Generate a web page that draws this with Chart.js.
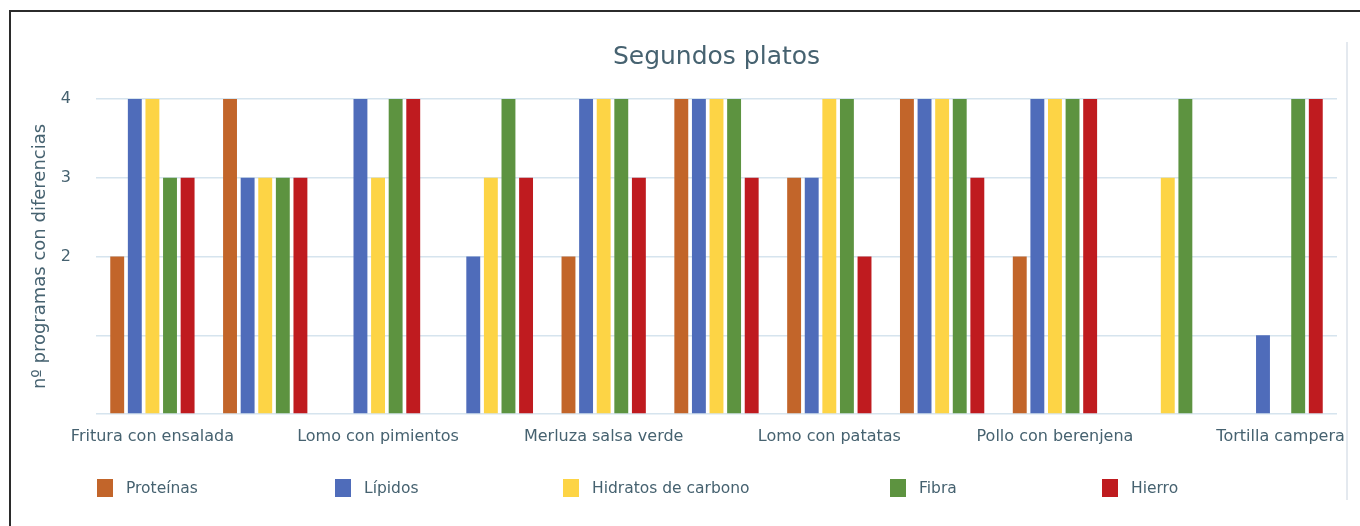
<!DOCTYPE html>
<html>
<head>
<meta charset="utf-8">
<script src="https://cdn.jsdelivr.net/npm/chart.js@4"></script>
<style>
    html, body { margin: 0; padding: 0; background: #fff; }
    .wrap { position: relative; width: 1360px; height: 526px; overflow: hidden; }
    .frame { position: absolute; left: 9px; top: 10px; right: 0; bottom: 0; border-top: 2px solid #2b2b2b; border-left: 2px solid #2b2b2b; pointer-events: none; }
    .edge { position: absolute; left: 1346px; top: 42px; width: 2px; height: 458px; background: #e4e9ef; }
    .legend { position: absolute; left: 0; top: 479px; width: 1360px; height: 20px; font-family: "DejaVu Sans", sans-serif; font-size: 15.5px; color: #466270; }
    .legend-item { position: absolute; top: 0; display: flex; align-items: center; height: 18px; }
    .legend-item i { display: inline-block; width: 16px; height: 18px; margin-right: 13px; }
</style>
</head>
<body>
<div class="wrap">
    <canvas id="chart" width="1360" height="526"></canvas>
    <div class="frame"></div>
    <div class="edge"></div>
    <div class="legend" id="legend"></div>
</div>
<script>
const categories = ['Fritura con ensalada', '', 'Lomo con pimientos', '', 'Merluza salsa verde', '',
    'Lomo con patatas', '', 'Pollo con berenjena', '', 'Tortilla campera'];
const seriesNames = ['Proteínas', 'Lípidos', 'Hidratos de carbono', 'Fibra', 'Hierro'];
const proteinas = [2, 4, 0, 0, 2, 4, 3, 4, 2, 0, 0];
const lipidos = [4, 3, 4, 2, 4, 4, 3, 4, 4, 0, 1];
const hidratos = [4, 3, 3, 3, 4, 4, 4, 4, 4, 3, 0];
const fibra = [3, 3, 4, 4, 4, 4, 4, 4, 4, 4, 4];
const hierro = [3, 3, 4, 3, 3, 3, 2, 3, 4, 0, 4];
const yTicks = [2, 3, 4];

const colors = ['#c2652a', '#4f6cba', '#fdd445', '#5d9340', '#bf1b1f'];
const legendX = [97, 335, 563, 890, 1102];
const textColor = '#466270';
const font = '"DejaVu Sans", sans-serif';

const canvas = document.getElementById('chart');
const values = [proteinas, lipidos, hidratos, fibra, hierro];
const chart = new Chart(canvas, {
    type: 'bar',
    data: {
        labels: categories,
        datasets: seriesNames.map((name, i) => ({
            label: name,
            data: values[i],
            backgroundColor: colors[i],
            borderWidth: 0,
            categoryPercentage: 0.78,
            barPercentage: 0.79
        }))
    },
    options: {
        responsive: false, maintainAspectRatio: false, animation: false,
        layout: { padding: { left: 0, right: 23, top: 0, bottom: 70 } },
        plugins: {
            legend: { display: false },
            tooltip: { enabled: false },
            title: {
                display: true, text: 'Segundos platos', color: textColor, fullSize: false,
                font: { family: font, size: 25, weight: 'normal' },
                padding: { top: 42, bottom: 27 }
            }
        },
        scales: {
            x: {
                grid: { display: false },
                border: { display: false },
                ticks: {
                    autoSkip: false, maxRotation: 0, padding: 5, color: textColor,
                    font: { family: font, size: 16 }
                },
                afterFit: s => { s.height = 42; }
            },
            y: {
                min: 0, max: 4,
                grid: { color: '#d6e4ee', lineWidth: 1.5, drawTicks: false },
                border: { display: false },
                ticks: {
                    stepSize: 1, padding: 25, color: textColor,
                    font: { family: font, size: 16 },
                    callback: v => yTicks.includes(v) ? v : ''
                },
                title: {
                    display: true, text: 'nº programas con diferencias', color: textColor,
                    font: { family: font, size: 18 },
                    padding: { top: 30, bottom: 0 }
                },
                afterFit: s => { s.width = 96; }
            }
        }
    }
});

const legend = document.getElementById('legend');
legend.innerHTML = chart.data.datasets.map((d, i) => `
    <div class="legend-item" style="left:${legendX[i]}px"><i style="background:${d.backgroundColor}"></i>${d.label}</div>`).join('');
</script>
</body>
</html>
